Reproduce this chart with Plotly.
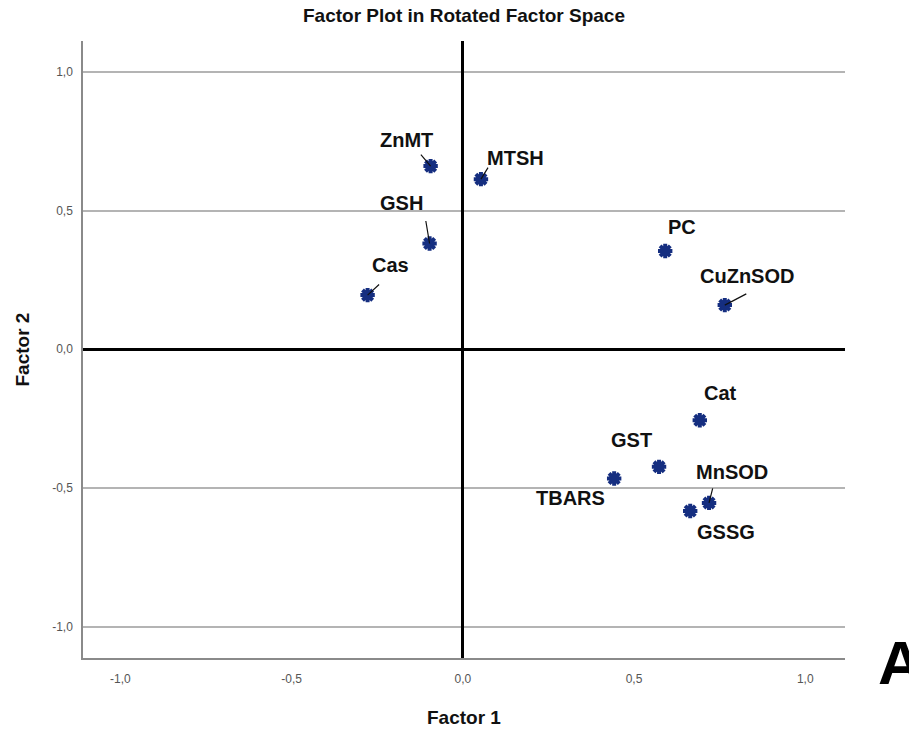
import plotly.graph_objects as go

# ---- data ----
variables = ["ZnMT", "MTSH", "GSH", "Cas", "PC", "CuZnSOD", "Cat", "GST", "TBARS", "MnSOD", "GSSG"]
factor1 = [-0.094, 0.053, -0.097, -0.278, 0.591, 0.765, 0.692, 0.573, 0.442, 0.719, 0.664]
factor2 = [0.660, 0.613, 0.381, 0.195, 0.354, 0.159, -0.256, -0.424, -0.466, -0.554, -0.583]

tick_vals = [-1.0, -0.5, 0.0, 0.5, 1.0]
tick_labels = ["-1,0", "-0,5", "0,0", "0,5", "1,0"]

# label placement (pixel offsets of label centre from point, screen coords: +dy = down)
label_dx = [-24, 35, -28, 23, 17, 22, 21, -28, -44, 23, 36]
label_dy = [-26, -21, -41, -30, -24, -29, -27, -27, 19, -31, 21]
# leader line start offsets (pixels from point); None = no leader
leader_dx = [-11, 8, -4, 13, None, 23, None, None, None, 4, None]
leader_dy = [-13, -13, -24, -12, None, -12, None, None, None, -16, None]

FONT = "Liberation Sans, Arial, sans-serif"

fig = go.Figure()
fig.add_trace(go.Scatter(
    x=factor1, y=factor2, mode="markers",
    marker=dict(symbol="asterisk", size=12, color="#152e80",
                line=dict(color="#152e80", width=4)),
    hoverinfo="skip", showlegend=False,
))

for name, x, y, dx, dy, lx, ly in zip(variables, factor1, factor2, label_dx, label_dy,
                                      leader_dx, leader_dy):
    if lx is not None:
        fig.add_annotation(x=x, y=y, xref="x", yref="y", text="",
                           showarrow=True, ax=lx, ay=ly, arrowhead=0, arrowwidth=1.2,
                           arrowcolor="#111111", standoff=0)
    fig.add_annotation(x=x, y=y, xref="x", yref="y", text="<b>%s</b>" % name,
                       showarrow=False, xshift=dx, yshift=-dy,
                       font=dict(family=FONT, size=20, color="#111111"))

# axis titles and panel letter
fig.add_annotation(text="<b>Factor 1</b>", xref="paper", yref="paper",
                   x=0.5, y=-0.097, xanchor="center", yanchor="middle", showarrow=False,
                   font=dict(family=FONT, size=19, color="#111111"))
fig.add_annotation(text="<b>Factor 2</b>", xref="paper", yref="paper",
                   x=-0.08, y=0.5, xanchor="center", yanchor="middle", textangle=-90,
                   showarrow=False,
                   font=dict(family=FONT, size=19, color="#111111"))
fig.add_annotation(text="<b>A</b>", xref="paper", yref="paper",
                   x=1.041, y=-0.007, xanchor="left", yanchor="middle", showarrow=False,
                   font=dict(family=FONT, size=62, color="#000000"))

fig.update_layout(
    width=909, height=729,
    margin=dict(l=83, r=64, t=41, b=71),
    paper_bgcolor="white", plot_bgcolor="white",
    title=dict(text="<b>Factor Plot in Rotated Factor Space</b>", x=0.5, xref="paper",
               y=0.979, yref="container", xanchor="center", yanchor="middle",
               font=dict(family=FONT, size=19, color="#111111")),
    xaxis=dict(range=[-1.109, 1.116], tickvals=tick_vals, ticktext=tick_labels,
               showgrid=False, zeroline=True, zerolinecolor="#000000", zerolinewidth=3,
               showline=True, linecolor="#8a8a8a", linewidth=1.5,
               ticks="outside", ticklen=9, tickcolor="rgba(0,0,0,0)",
               tickfont=dict(family=FONT, size=12, color="#555555")),
    yaxis=dict(range=[-1.113, 1.111], tickvals=tick_vals, ticktext=tick_labels,
               showgrid=True, gridcolor="#b4b4b4", gridwidth=1.5,
               zeroline=True, zerolinecolor="#000000", zerolinewidth=3,
               showline=True, linecolor="#8a8a8a", linewidth=1.5,
               ticks="outside", ticklen=6, tickcolor="rgba(0,0,0,0)",
               tickfont=dict(family=FONT, size=12, color="#555555")),
)

fig.write_html("out.html")
